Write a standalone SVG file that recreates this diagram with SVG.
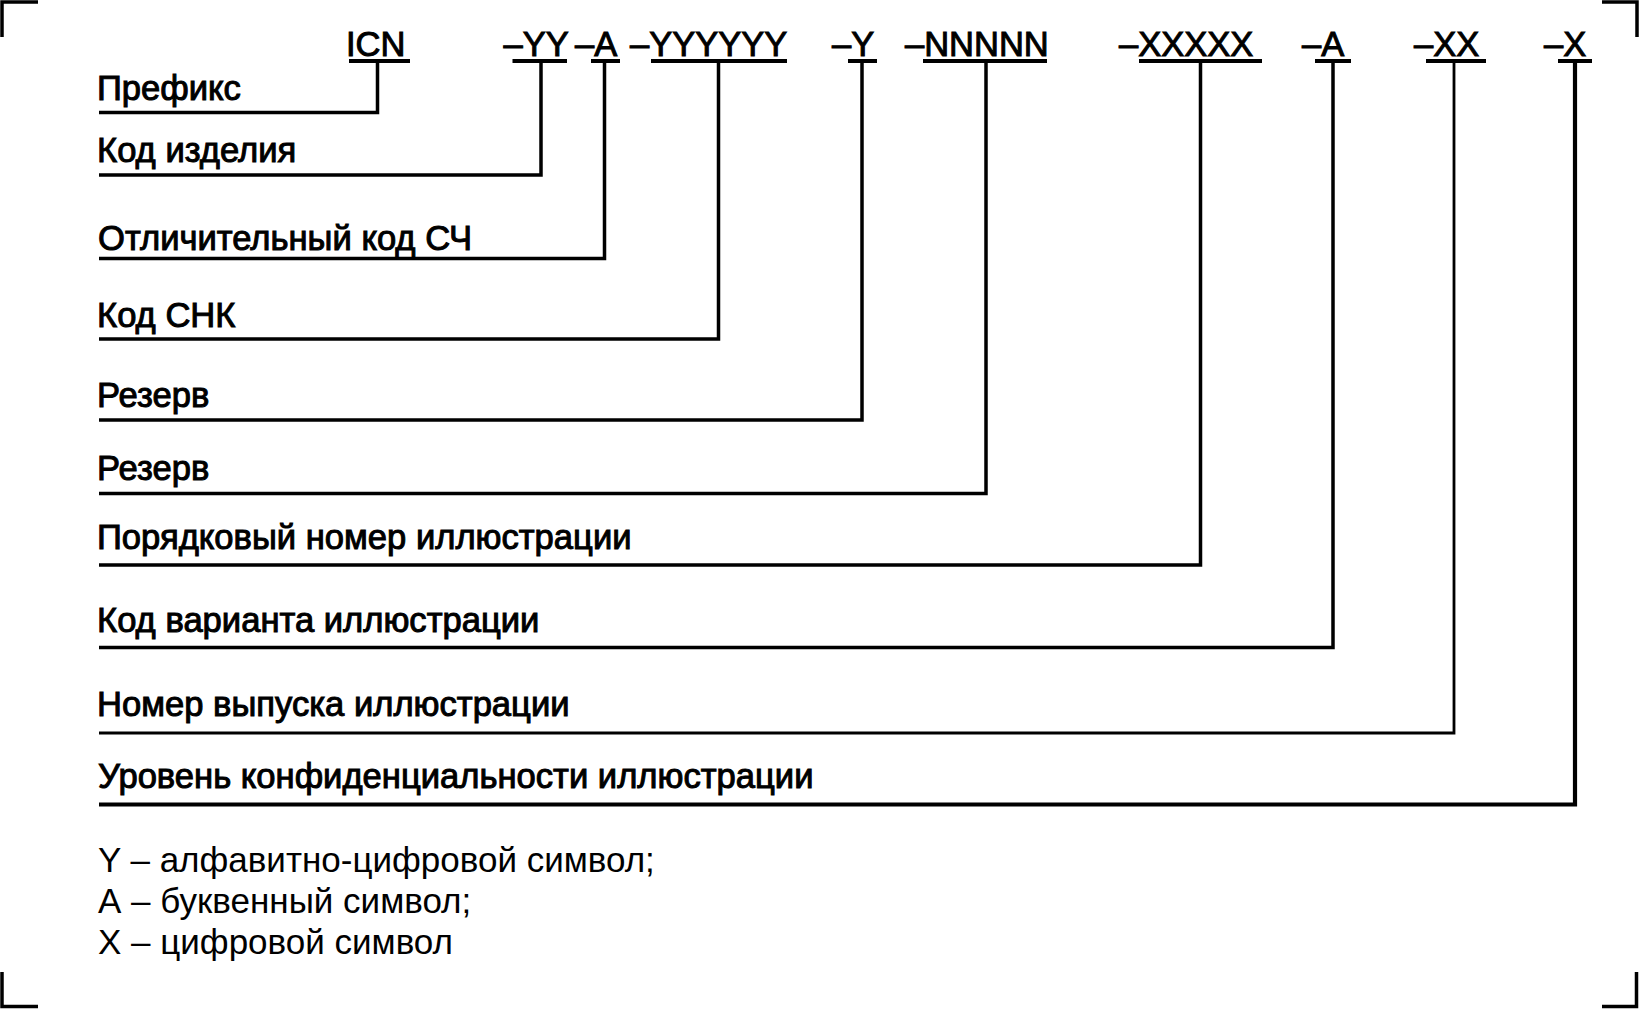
<svg xmlns="http://www.w3.org/2000/svg" width="1639" height="1009" viewBox="0 0 1639 1009">
<style>
.code{font-family:"Liberation Sans",Arial,sans-serif;font-size:34.5px;fill:#000;stroke:#000;stroke-width:1}
.lbl{font-family:"Liberation Sans",Arial,sans-serif;font-size:34.6px;fill:#000;stroke:#000;stroke-width:1}
.leg{font-family:"Liberation Sans",Arial,sans-serif;font-size:35px;fill:#000}
.ul{stroke:#000;stroke-width:4;fill:none}
.conn{stroke:#000;stroke-width:3.5;fill:none;stroke-linejoin:miter}
.mark{stroke:#000;stroke-width:3.5;fill:none}
</style>
<rect width="1639" height="1009" fill="#fff"/>
<g id="corners">
<path class="mark" d="M2,37 V2 H38"/>
<path class="mark" d="M1602,2 H1637 V37"/>
<path class="mark" d="M2,972 V1006.5 H38"/>
<path class="mark" d="M1602,1006.5 H1636.5 V972"/>
</g>
<g id="connectors">
<path class="conn" d="M377.5,61 V112.5 H99"/>
<path class="conn" d="M541,61 V175 H99"/>
<path class="conn" d="M604.5,61 V258.5 H99"/>
<path class="conn" d="M718.5,61 V339 H99"/>
<path class="conn" d="M862,61 V420 H99"/>
<path class="conn" d="M986,61 V493.5 H99"/>
<path class="conn" d="M1200.5,61 V565 H99"/>
<path class="conn" d="M1333,61 V647.5 H99"/>
<path class="conn" d="M1454,61 V733 H99" style="stroke-width:2.8"/>
<path class="conn" d="M1575,61 V804.5 H99" style="stroke-width:4.2"/>
</g>
<g id="code-icn"><text class="code" x="346" y="56">ICN</text><line class="ul" x1="349" y1="61" x2="410" y2="61"/></g>
<g id="code-yy"><text class="code" x="503.5" y="56">–YY</text><line class="ul" x1="512.5" y1="61" x2="567" y2="61"/></g>
<g id="code-a1"><text class="code" x="575" y="56">–A</text><line class="ul" x1="591" y1="61" x2="620" y2="61"/></g>
<g id="code-y6"><text class="code" x="630" y="56">–YYYYYY</text><line class="ul" x1="651" y1="61" x2="787" y2="61"/></g>
<g id="code-y1"><text class="code" x="832" y="56">–Y</text><line class="ul" x1="848" y1="61" x2="877" y2="61"/></g>
<g id="code-n5"><text class="code" x="905" y="56">–NNNNN</text><line class="ul" x1="923" y1="61" x2="1047" y2="61"/></g>
<g id="code-x5"><text class="code" x="1119" y="56">–XXXXX</text><line class="ul" x1="1139" y1="61" x2="1262" y2="61"/></g>
<g id="code-a2"><text class="code" x="1302" y="56">–A</text><line class="ul" x1="1315" y1="61" x2="1351" y2="61"/></g>
<g id="code-x2"><text class="code" x="1414" y="56">–XX</text><line class="ul" x1="1426" y1="61" x2="1486" y2="61"/></g>
<g id="code-x1"><text class="code" x="1544" y="56">–X</text><line class="ul" x1="1558" y1="61" x2="1592" y2="61"/></g>
<g id="label-prefix"><text class="lbl" x="97" y="99.5">Префикс</text></g>
<g id="label-product"><text class="lbl" x="97" y="162">Код изделия</text></g>
<g id="label-part"><text class="lbl" x="98" y="250">Отличительный код СЧ</text></g>
<g id="label-snk"><text class="lbl" x="97" y="326.5">Код СНК</text></g>
<g id="label-res1"><text class="lbl" x="97" y="407">Резерв</text></g>
<g id="label-res2"><text class="lbl" x="97" y="479.5">Резерв</text></g>
<g id="label-seq"><text class="lbl" x="97" y="548.5">Порядковый номер иллюстрации</text></g>
<g id="label-variant"><text class="lbl" x="97" y="631.5">Код варианта иллюстрации</text></g>
<g id="label-issue"><text class="lbl" x="97" y="716">Номер выпуска иллюстрации</text></g>
<g id="label-security"><text class="lbl" x="98" y="788">Уровень конфиденциальности иллюстрации</text></g>
<g id="legend">
<text class="leg" x="98" y="872">Y – алфавитно-цифровой символ;</text>
<text class="leg" x="98" y="913">А – буквенный символ;</text>
<text class="leg" x="98" y="954">Х – цифровой символ</text>
</g>
</svg>
